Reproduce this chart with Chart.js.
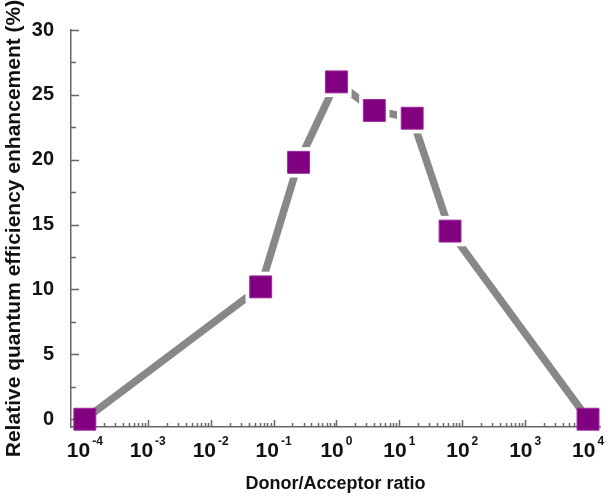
<!DOCTYPE html>
<html>
<head>
<meta charset="utf-8">
<script src="https://cdn.jsdelivr.net/npm/chart.js@4.4.1/dist/chart.umd.min.js"></script>
<style>
  html, body { margin: 0; padding: 0; background: #fff; }
  #wrap { width: 608px; height: 496px; }
</style>
</head>
<body>
<div id="wrap"><canvas id="ratioChart" width="608" height="496"></canvas></div>
<script>
// Data
const donorAcceptorRatio = [1e-4, 0.0625, 0.25, 1, 4, 16, 64, 1e4];
const enhancement = [0, 10.2, 19.8, 26.0, 23.8, 23.2, 14.5, 0];

const xTickValues = [1e-4, 1e-3, 1e-2, 1e-1, 1, 10, 100, 1000, 1e4];
const xTickExponents = ['-4', '-3', '-2', '-1', '0', '1', '2', '3', '4'];
const yTickValues = [0, 5, 10, 15, 20, 25, 30];
const yTickLabels = ['0', '5', '10', '15', '20', '25', '30'];

const fontFamily = '"Liberation Sans", Arial, sans-serif';
const axisColor = '#666666';
const points = donorAcceptorRatio.map((v, i) => ({ x: v, y: enhancement[i] }));
const lastIndex = points.length - 1;

// inward ticks + x labels with superscript exponents
const axisDecor = {
    id: 'axisDecor',
    beforeDatasetsDraw(chart) {
        const { ctx, chartArea: a, scales: { x, y } } = chart;
        ctx.save();
        ctx.strokeStyle = axisColor;
        ctx.lineWidth = 1.5;
        ctx.beginPath();
        yTickValues.forEach((v, i) => {
            const py = Math.round(y.getPixelForValue(v)) + 0.5;
            ctx.moveTo(a.left, py);
            ctx.lineTo(a.left + 8, py);
            if (i < yTickValues.length - 1) {
                const my = Math.round(y.getPixelForValue((v + yTickValues[i + 1]) / 2)) + 0.5;
                ctx.moveTo(a.left, my);
                ctx.lineTo(a.left + 5, my);
            }
        });
        xTickValues.forEach((v, i) => {
            const px = Math.round(x.getPixelForValue(v)) + 0.5;
            ctx.moveTo(px, a.bottom);
            ctx.lineTo(px, a.bottom - 7);
            if (i < xTickValues.length - 1) {
                for (let k = 2; k <= 9; k++) {
                    const mx = Math.round(x.getPixelForValue(k * v)) + 0.5;
                    ctx.moveTo(mx, a.bottom);
                    ctx.lineTo(mx, a.bottom - 4);
                }
            }
        });
        ctx.stroke();
        ctx.restore();
    },
    afterDraw(chart) {
        const { ctx, chartArea: a, scales: { x } } = chart;
        ctx.save();
        ctx.fillStyle = '#111';
        ctx.textBaseline = 'alphabetic';
        ctx.textAlign = 'left';
        xTickValues.forEach((v, i) => {
            const px = x.getPixelForValue(v);
            ctx.font = 'bold 21px ' + fontFamily;
            const baseW = ctx.measureText('10').width;
            ctx.font = 'bold 12px ' + fontFamily;
            const expW = ctx.measureText(xTickExponents[i]).width;
            const start = px - (baseW + 2 + expW) / 2;
            ctx.font = 'bold 21px ' + fontFamily;
            ctx.fillText('10', start, a.bottom + 30);
            ctx.font = 'bold 12px ' + fontFamily;
            ctx.fillText(xTickExponents[i], start + baseW + 2, a.bottom + 18);
        });
        ctx.restore();
    }
};

new Chart(document.getElementById('ratioChart'), {
    type: 'scatter',
    data: {
        datasets: [
            {
                // purple markers
                data: points,
                showLine: false,
                pointStyle: 'rect',
                pointRadius: 15.5,
                pointBackgroundColor: '#800080',
                pointBorderColor: '#9a2a9a',
                pointBorderWidth: 1,
                clip: false,
                order: 0
            },
            {
                // white halo that leaves the gap between line and marker
                data: points,
                showLine: false,
                pointStyle: 'rect',
                pointRadius: ctx => (ctx.dataIndex === 0 || ctx.dataIndex === lastIndex) ? 0 : 21.5,
                pointBackgroundColor: '#ffffff',
                pointBorderWidth: 0,
                clip: false,
                order: 1
            },
            {
                // connecting line
                data: points,
                showLine: true,
                borderColor: '#888888',
                borderWidth: 7.5,
                borderCapStyle: 'round',
                borderJoinStyle: 'round',
                pointRadius: 0,
                clip: false,
                order: 2
            }
        ]
    },
    options: {
        responsive: false,
        devicePixelRatio: 1,
        animation: false,
        events: [],
        layout: { autoPadding: false, padding: { top: 30, right: 8, left: 0, bottom: 0 } },
        plugins: {
            legend: { display: false },
            tooltip: { enabled: false }
        },
        scales: {
            x: {
                type: 'logarithmic',
                min: Math.pow(10, -4.22),
                max: Math.pow(10, 4.19),
                grid: { display: false },
                border: { display: true, color: axisColor, width: 1.5 },
                ticks: { display: false },
                afterBuildTicks: axis => { axis.ticks = xTickValues.map(v => ({ value: v })); },
                afterFit: scale => { scale.height = 69; },
                title: {
                    display: true,
                    text: 'Donor/Acceptor ratio',
                    color: '#111',
                    font: { family: fontFamily, size: 18, weight: 'bold' },
                    padding: { top: 0, bottom: 1 }
                }
            },
            y: {
                min: -0.6,
                max: 30,
                grid: { display: false },
                border: { display: true, color: axisColor, width: 1.5 },
                ticks: {
                    color: '#111',
                    padding: 9,
                    font: { family: fontFamily, size: 20, weight: 'bold' },
                    callback: (value, i) => yTickLabels[i]
                },
                afterBuildTicks: axis => { axis.ticks = yTickValues.map(v => ({ value: v })); },
                afterFit: scale => { scale.width = 71; },
                title: {
                    display: true,
                    text: 'Relative quantum efficiency enhancement (%)',
                    color: '#111',
                    font: { family: fontFamily, size: 21, weight: 'bold' },
                    padding: { top: 2, bottom: 0 }
                }
            }
        }
    },
    plugins: [axisDecor]
});
</script>
</body>
</html>
